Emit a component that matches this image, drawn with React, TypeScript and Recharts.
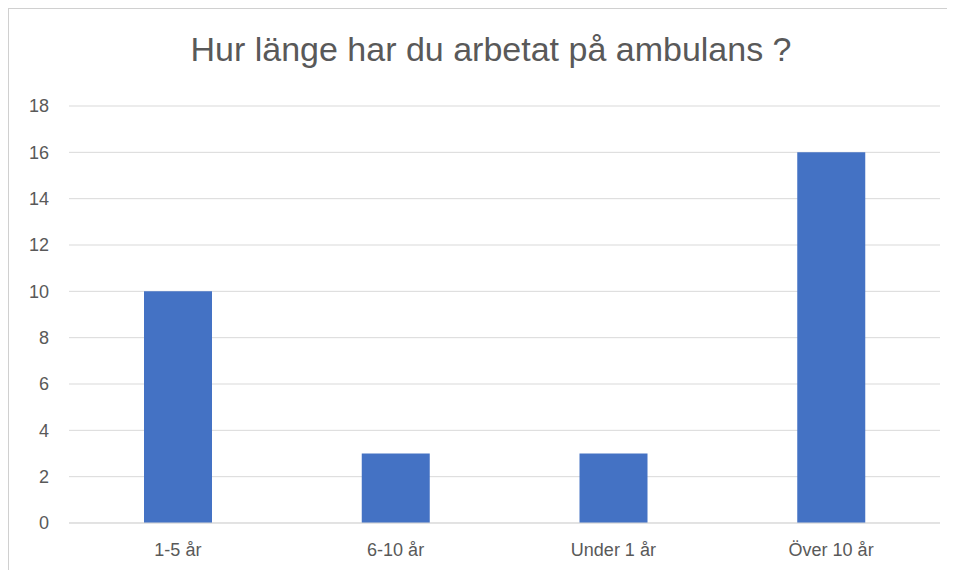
import React from 'react';
import { BarChart, Bar, XAxis, YAxis, CartesianGrid } from 'recharts';

const categories = ['1-5 år', '6-10 år', 'Under 1 år', 'Över 10 år'];
const counts = [10, 3, 3, 16];
const yTicks = [0, 2, 4, 6, 8, 10, 12, 14, 16, 18];

const data = categories.map((name, i) => ({ name, count: counts[i] }));

const fontFamily = '"Liberation Sans", Arial, sans-serif';

const App: React.FC = () => {
  return (
    <div style={{ position: 'relative', width: 955, height: 578, margin: -8, overflow: 'hidden', background: '#fff' }}>
      <div
        style={{
          position: 'absolute', left: 0, top: 30, width: 982, textAlign: 'center',
          fontFamily, fontSize: 34, color: '#595959', zIndex: 2,
        }}
      >
        Hur länge har du arbetat på ambulans ?
      </div>
      <div style={{ position: 'absolute', left: 0, top: 0 }}>
        <BarChart width={955} height={578} data={data} margin={{ top: 106, right: 15, bottom: 25, left: 9 }}>
          {/* chart frame, only top and left edges are inside the picture */}
          <path d="M8 578 V8 H955" stroke="#d0d0d0" strokeWidth={2} fill="none" />
          <CartesianGrid horizontal vertical={false} stroke="#d9d9d9" />
          <XAxis
            dataKey="name"
            axisLine={{ stroke: '#d9d9d9' }}
            tickLine={false}
            tickMargin={14}
            tick={{ fill: '#595959', fontSize: 18, fontFamily }}
          />
          <YAxis
            width={60}
            domain={[0, 18]}
            ticks={yTicks}
            axisLine={false}
            tickLine={false}
            tickMargin={14}
            interval={0}
            tick={{ fill: '#595959', fontSize: 18, fontFamily }}
          />
          <Bar dataKey="count" fill="#4472c4" barSize={68} isAnimationActive={false} />
        </BarChart>
      </div>
    </div>
  );
};

export default App;
